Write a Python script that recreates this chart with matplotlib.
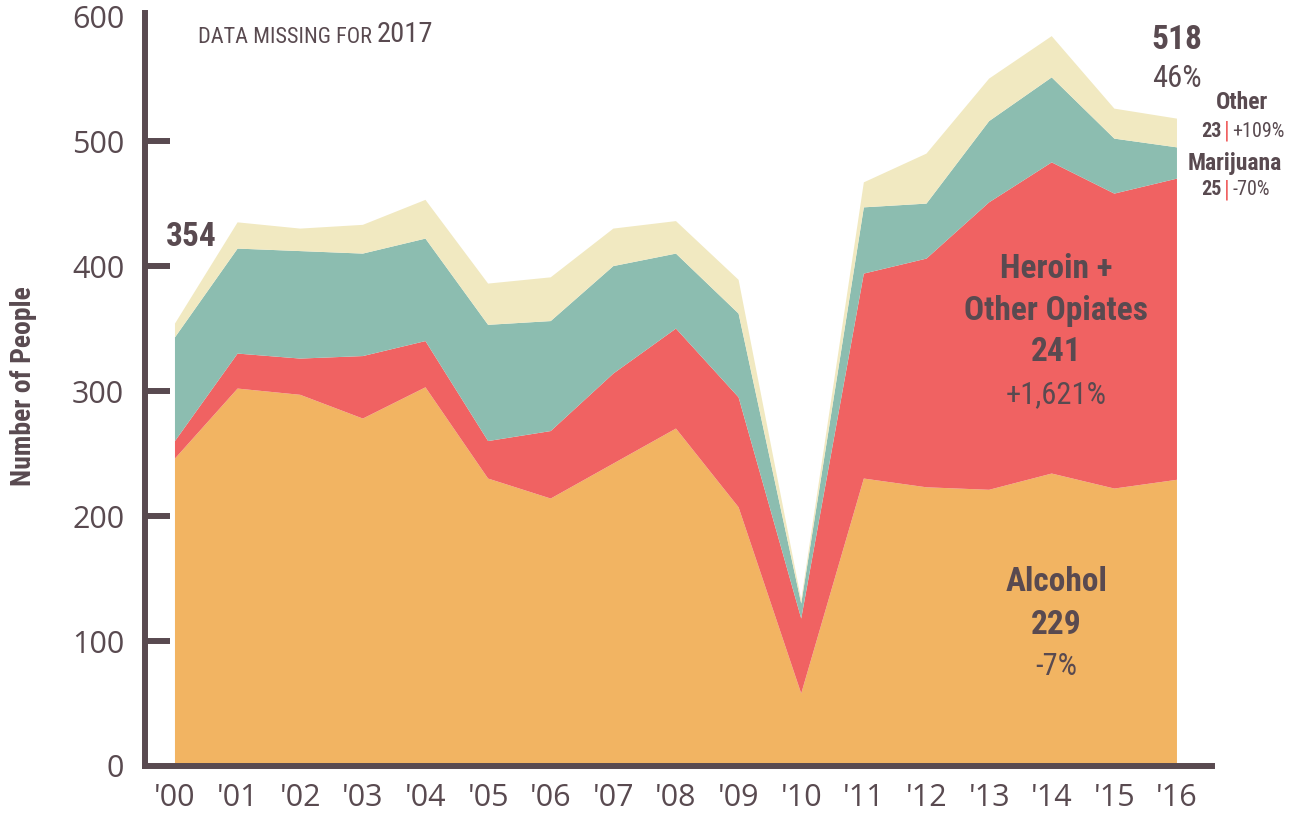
import matplotlib
matplotlib.use("Agg")
import matplotlib.pyplot as plt

# admissions by primary substance, 2000-2016 (no data for 2017)
years = list(range(2000, 2017))
tick_labels = ["'%02d" % (y % 100) for y in years]
alcohol = [246, 302, 297, 278, 303, 230, 214, 242, 270, 207, 58, 230, 223, 221, 234, 222, 229]
heroin = [14, 28, 29, 50, 37, 30, 54, 72, 80, 88, 60, 164, 183, 230, 249, 236, 241]
marijuana = [83, 84, 86, 82, 82, 93, 88, 86, 60, 67, 12, 53, 44, 65, 68, 44, 25]
other = [11, 21, 18, 23, 31, 33, 35, 30, 26, 27, 3, 20, 40, 34, 33, 24, 23]

colors = ["#F2B462", "#F06262", "#8CBDB0", "#F1E9C1"]
ink = "#594A50"
narrow = ["Roboto Condensed", "Open Sans Condensed", "DejaVu Sans"]
plain = ["Open Sans", "DejaVu Sans"]

totals = [a + h + m + o for a, h, m, o in zip(alcohol, heroin, marijuana, other)]


def pct(series):
    return (series[-1] - series[0]) / series[0] * 100


fig = plt.figure(figsize=(12.99, 8.21), dpi=100)
ax = fig.add_axes([0.1116, 0.067, 0.8214, 0.917])
ax.stackplot(years, alcohol, heroin, marijuana, other, colors=colors, linewidth=0)

ax.set_xlim(2000 - 30 / 62.625, 2016 + 35 / 62.625)
ax.set_ylim(0, 602.4)
for side in ["top", "right"]:
    ax.spines[side].set_visible(False)
for side in ["left", "bottom"]:
    ax.spines[side].set_color(ink)
    ax.spines[side].set_linewidth(4.3)

ax.set_xticks(years)
ax.set_xticklabels(tick_labels, family=plain, fontsize=22, color=ink)
ax.tick_params(axis="x", length=0, pad=12)
ax.set_yticks(range(0, 601, 100))
ax.set_yticklabels([str(v) for v in range(0, 601, 100)], family=plain, fontsize=22, color=ink)
ax.tick_params(axis="y", direction="in", length=18, width=4.3, color=ink, pad=15)
for t in ax.yaxis.get_major_ticks():
    if t.get_loc() in (0, 600):
        t.tick1line.set_visible(False)

fig.text(0.018, 0.53, "Number of People", rotation=90, ha="center", va="center",
         family=narrow, fontweight="bold", fontsize=20, color=ink)

note = ax.text(2000.37, 583, "DATA MISSING FOR", family=narrow, fontsize=16,
               color=ink, va="center", ha="left")
ax.annotate("2017", xy=(1, 0), xycoords=note, xytext=(3, 0), textcoords="offset points",
            family=narrow, fontsize=20.5, color=ink, va="bottom", ha="left")

# totals at both ends
ax.text(2000.26, totals[0] + 69, str(totals[0]), family=narrow, fontweight="bold",
        fontsize=24, color=ink, ha="center", va="center")
ax.text(2016, totals[-1] + 63, str(totals[-1]), family=narrow, fontweight="bold",
        fontsize=24, color=ink, ha="center", va="center")
ax.text(2016, totals[-1] + 32, "%.0f%%" % pct(totals), family=narrow,
        fontsize=22, color=ink, ha="center", va="center")

# small series on the right margin
for name, series, xc, yn, yv in [("Other", other, 2017.04, 531, 508),
                                  ("Marijuana", marijuana, 2016.93, 482, 461)]:
    ax.text(xc, yn, name, family=narrow, fontweight="bold", fontsize=17,
            color=ink, ha="center", va="center")
    ax.text(2016.72, yv, str(series[-1]), family=narrow, fontweight="bold",
            fontsize=14.5, color=ink, ha="right", va="center")
    ax.text(2016.8, yv, "|", family=narrow, fontsize=17, color=colors[1],
            ha="center", va="center")
    ax.text(2016.88, yv, "{:+,.0f}%".format(pct(series)).replace("+-", "-"),
            family=narrow, fontsize=14.5, color=ink, ha="left", va="center")

# in-area labels
for lines in [[("Heroin +", 398, True), ("Other Opiates", 364, True),
               (str(heroin[-1]), 331, True),
               ("{:+,.0f}%".format(pct(heroin)), 297, False)],
              [("Alcohol", 147, True), (str(alcohol[-1]), 113, True),
               ("{:,.0f}%".format(pct(alcohol)), 80, False)]]:
    for txt, yv, bold in lines:
        ax.text(2014.07, yv, txt, family=narrow,
                fontweight="bold" if bold else "normal",
                fontsize=24 if bold else 22, color=ink, ha="center", va="center")

fig.savefig("out.png", dpi=100)
